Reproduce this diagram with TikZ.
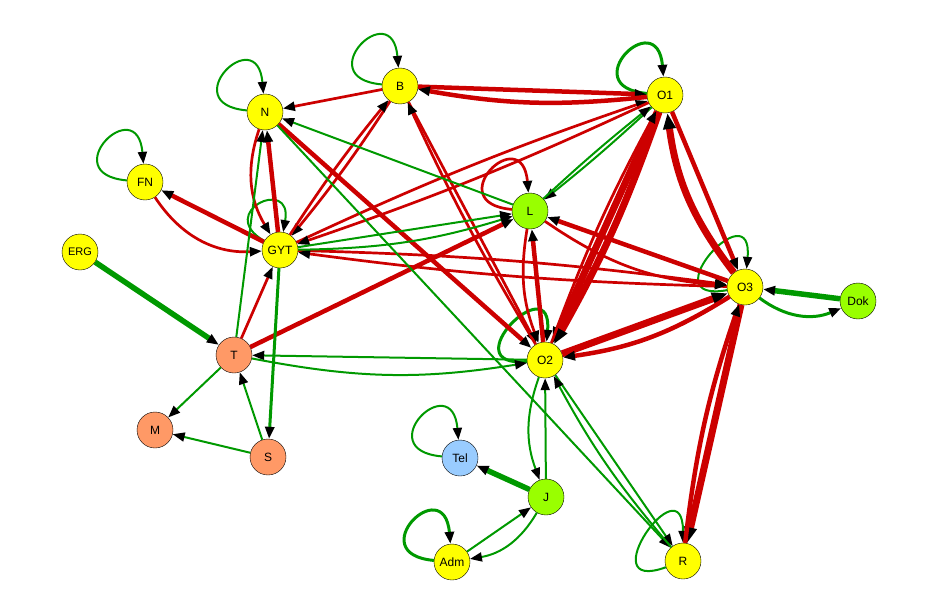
\documentclass[tikz,border=0pt]{standalone}
\usepackage{fontspec}
\setmainfont{Liberation Sans}
\usetikzlibrary{arrows.meta}
\definecolor{ry}{HTML}{FFFF00}
\definecolor{gr}{HTML}{99FF00}
\definecolor{sal}{HTML}{FF9966}
\definecolor{blu}{HTML}{99CCFF}
\definecolor{er}{HTML}{CC0000}
\definecolor{eg}{HTML}{009900}
\tikzset{
 v/.style={circle,draw=black,thin,minimum size=36pt,inner sep=0pt,font=\fontsize{12}{12}\selectfont},
 e/.style={-{Triangle[color=black,length=12pt,width=9pt]},line width=2pt},
 r1/.style={e,er,line width=2.7pt},
 r2/.style={e,er,line width=4.5pt},
 r3/.style={e,er,line width=7pt,-{Triangle[color=black,length=16pt,width=12pt]}},
 g1/.style={e,eg,line width=2pt},
 g2/.style={e,eg,line width=3pt},
 g3/.style={e,eg,line width=5.5pt},
 lp/.style={out=175,in=95,looseness=8},
}
\begin{document}
\begin{tikzpicture}[x=1pt,y=-1pt]
\useasboundingbox (0,0) rectangle (937,610);
\node[v,fill=ry] (B) at (400,86) {B};
\node[v,fill=ry] (O1) at (665,95) {O1};
\node[v,fill=ry] (N) at (265,112) {N};
\node[v,fill=ry] (FN) at (145,182) {FN};
\node[v,fill=gr] (L) at (530,211) {L};
\node[v,fill=ry] (GYT) at (280,250) {GYT};
\node[v,fill=ry] (ERG) at (80,252) {\fontsize{11}{11}\selectfont ERG};
\node[v,fill=ry] (O3) at (745,287) {O3};
\node[v,fill=gr] (Dok) at (858,301) {Dok};
\node[v,fill=sal] (T) at (234,355) {T};
\node[v,fill=ry] (O2) at (545,360) {O2};
\node[v,fill=sal] (M) at (155,430) {M};
\node[v,fill=sal] (S) at (268,457) {S};
\node[v,fill=blu] (Tel) at (460,458) {Tel};
\node[v,fill=gr] (J) at (546,497) {J};
\node[v,fill=ry] (Adm) at (452,562) {Adm};
\node[v,fill=ry] (R) at (683,561) {R};
% self loops
\draw[g1] (N) to[lp] (N);
\draw[g1] (B) to[lp] (B);
\draw[g2] (O1) to[lp] (O1);
\draw[g1] (FN) to[lp] (FN);
\draw[g1] (GYT) to[out=150,in=80,looseness=7] (GYT);
\draw[r1] (L) to[lp] (L);
\draw[g1] (O3) to[out=190,in=85,looseness=7] (O3);
\draw[g2] (O2) to[out=185,in=85,looseness=7] (O2);
\draw[g1] (Tel) to[lp] (Tel);
\draw[g2] (Adm) to[lp] (Adm);
\draw[g1] (R) to[out=200,in=90,looseness=7] (R);
% red edges
\draw[r1] (B) -- (N);
\draw[r2] (B) -- (O1);
\draw[r2] (O1) to[bend left=8] (B);
\draw[r1] (N) to[bend right=25] (GYT);
\draw[r2] (GYT) -- (N);
\draw[r2] (N) -- (O2);
\draw[r1] (B) to[bend left=3] (GYT);
\draw[r1] (GYT) to[bend left=3] (B);
\draw[r1] (B) -- (O2);
\draw[r1] (O2) to[bend left=3] (B);
\draw[r1] (GYT) to[bend left=3] (O1);
\draw[r1] (O1) to[bend left=3] (GYT);
\draw[r1] (GYT) to[bend left=3] (O3);
\draw[r1] (O3) to[bend left=3] (GYT);
\draw[r2] (GYT) -- (FN);
\draw[r1] (FN) to[bend right=30] (GYT);
\draw[r1] (T) -- (GYT);
\draw[r2] (T) -- (L);
\draw[r1] (L) to[bend right=15] (O2);
\draw[r2] (O2) -- (L);
\draw[r2] (O3) -- (L);
\draw[r1] (L) to[bend right=15] (O3);
\draw[r3] (O1) -- (O2);
\draw[r3] (O1) to[bend left=5] (O2);
\draw[r1] (O2) to[bend left=4] (O1);
\draw[r2] (O1) -- (O3);
\draw[r3] (O3) to[bend left=15] (O1);
\draw[r3] (O2) -- (O3);
\draw[r2] (O3) to[bend left=12] (O2);
\draw[r3] (O3) -- (R);
\draw[r2] (R) to[bend left=6] (O3);
% green edges
\draw[g1] (L) -- (N);
\draw[g1] (T) -- (N);
\draw[g1] (N) -- (R);
\draw[g1] (GYT) -- (L);
\draw[g1] (GYT) to[bend right=8] (L);
\draw[g2] (GYT) -- (S);
\draw[g3] (ERG) -- (T);
\draw[g1] (O2) -- (T);
\draw[g1] (T) to[bend right=10] (O2);
\draw[g1] (T) -- (M);
\draw[g1] (S) -- (M);
\draw[g1] (S) -- (T);
\draw[g1] (O1) to[bend left=2] (L);
\draw[g1] (L) to[bend left=2] (O1);
\draw[g3] (Dok) -- (O3);
\draw[g2] (O3) to[bend right=30] (Dok);
\draw[g1] (O2) to[bend right=20] (J);
\draw[g1] (J) -- (O2);
\draw[g1] (O2) -- (R);
\draw[g1] (R) to[bend left=6] (O2);
\draw[g3] (J) -- (Tel);
\draw[g1] (J) to[bend left=25] (Adm);
\draw[g1] (Adm) -- (J);
\end{tikzpicture}
\end{document}
